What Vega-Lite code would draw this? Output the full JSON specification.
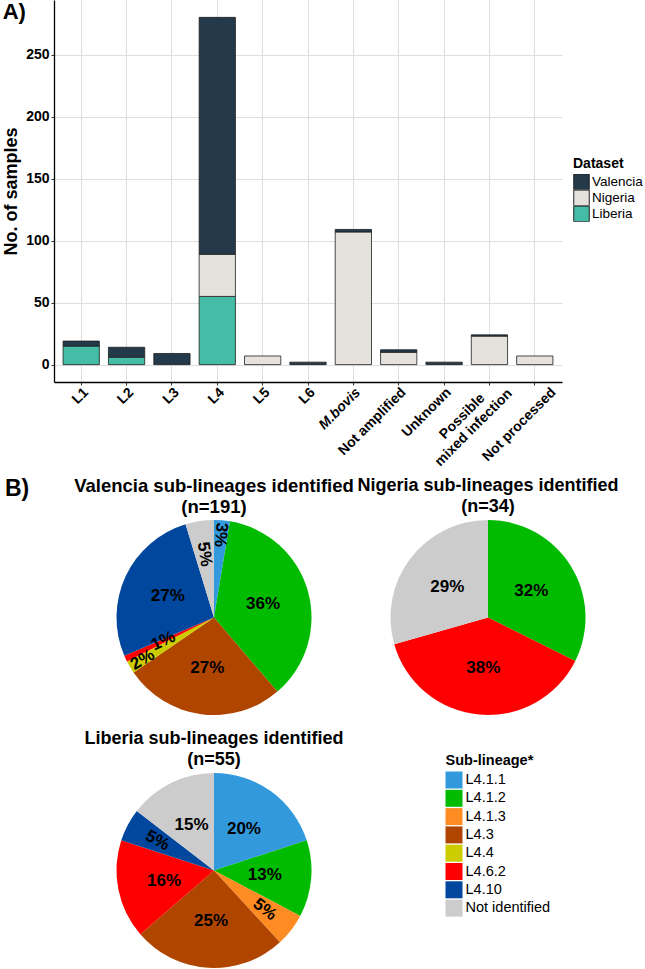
{
  "$schema": "https://vega.github.io/schema/vega-lite/v6.json",
  "padding": {"left": 2, "top": 0, "right": 0, "bottom": 0},
  "background": "white",
  "config": {"font": "Liberation Sans", "view": {"stroke": null}},
  "datasets": {
    "bars": [
      {"lineage": "L1", "dataset": "Liberia", "n": 15},
      {"lineage": "L1", "dataset": "Valencia", "n": 4},
      {"lineage": "L2", "dataset": "Liberia", "n": 6},
      {"lineage": "L2", "dataset": "Valencia", "n": 8},
      {"lineage": "L3", "dataset": "Valencia", "n": 9},
      {"lineage": "L4", "dataset": "Liberia", "n": 55},
      {"lineage": "L4", "dataset": "Nigeria", "n": 34},
      {"lineage": "L4", "dataset": "Valencia", "n": 191},
      {"lineage": "L5", "dataset": "Nigeria", "n": 7},
      {"lineage": "L6", "dataset": "Valencia", "n": 2},
      {"lineage": "M.bovis", "dataset": "Nigeria", "n": 107},
      {"lineage": "M.bovis", "dataset": "Valencia", "n": 2},
      {"lineage": "Not amplified", "dataset": "Nigeria", "n": 10},
      {"lineage": "Not amplified", "dataset": "Valencia", "n": 2},
      {"lineage": "Unknown", "dataset": "Valencia", "n": 2},
      {"lineage": "Possible mixed infection", "dataset": "Nigeria", "n": 23},
      {"lineage": "Possible mixed infection", "dataset": "Valencia", "n": 1},
      {"lineage": "Not processed", "dataset": "Nigeria", "n": 7}
    ],
    "pies": [
      {"dataset": "Valencia", "sub": "L4.1.1", "n": 5},
      {"dataset": "Valencia", "sub": "L4.1.2", "n": 69},
      {"dataset": "Valencia", "sub": "L4.3", "n": 51},
      {"dataset": "Valencia", "sub": "L4.4", "n": 4},
      {"dataset": "Valencia", "sub": "L4.6.2", "n": 2},
      {"dataset": "Valencia", "sub": "L4.10", "n": 51},
      {"dataset": "Valencia", "sub": "Not identified", "n": 9},
      {"dataset": "Nigeria", "sub": "L4.1.2", "n": 11},
      {"dataset": "Nigeria", "sub": "L4.6.2", "n": 13},
      {"dataset": "Nigeria", "sub": "Not identified", "n": 10},
      {"dataset": "Liberia", "sub": "L4.1.1", "n": 11},
      {"dataset": "Liberia", "sub": "L4.1.2", "n": 7},
      {"dataset": "Liberia", "sub": "L4.1.3", "n": 3},
      {"dataset": "Liberia", "sub": "L4.3", "n": 14},
      {"dataset": "Liberia", "sub": "L4.6.2", "n": 9},
      {"dataset": "Liberia", "sub": "L4.10", "n": 3},
      {"dataset": "Liberia", "sub": "Not identified", "n": 8}
    ]
  },
  "spacing": 7,
  "resolve": {"scale": {"color": "independent"}, "legend": {"color": "independent"}},
  "vconcat": [
    {
      "width": 508,
      "height": 382,
      "title": {"text": "A)", "anchor": "start", "frame": "bounds", "fontSize": 22, "fontWeight": "bold", "color": "black", "offset": -24},
      "data": {"name": "bars"},
      "transform": [{"calculate": "indexof(['Liberia','Nigeria','Valencia'], datum.dataset)", "as": "stackIdx"}],
      "mark": {"type": "bar", "stroke": "#1e1e1e", "strokeWidth": 0.8},
      "encoding": {
        "x": {
          "field": "lineage", "type": "nominal",
          "sort": ["L1", "L2", "L3", "L4", "L5", "L6", "M.bovis", "Not amplified", "Unknown", "Possible mixed infection", "Not processed"],
          "scale": {"paddingInner": 0.2, "paddingOuter": 0.2},
          "axis": {
            "title": null, "labelAngle": -45, "labelBaseline": "top",
            "labelAlign": {"condition": {"test": "datum.value == 'Possible mixed infection'", "value": "center"}, "value": "right"},
            "labelOffset": {"condition": [{"test": "datum.value == 'Possible mixed infection'", "value": -32}, {"test": "datum.value == 'Not processed'", "value": 14}], "value": 0},
            "labelPadding": {"condition": {"test": "datum.value == 'Possible mixed infection'", "value": 26}, "value": 0},
            "labelFontSize": 14, "labelFontWeight": "bold", "labelColor": "black",
            "labelFontStyle": {"condition": {"test": "datum.value === 'M.bovis'", "value": "italic"}, "value": "normal"},
            "labelExpr": "datum.value == 'Possible mixed infection' ? ['Possible', 'mixed infection'] : datum.value",
            "labelLineHeight": 16, "labelOverlap": false, "labelLimit": 0, "labelBound": false,
            "grid": true, "gridColor": "#dedede", "bandPosition": 0.5,
            "domainColor": "black", "domainWidth": 1.3, "tickColor": "#333333", "tickSize": 3
          }
        },
        "y": {
          "field": "n", "type": "quantitative", "stack": "zero",
          "scale": {"domain": [-14, 294], "nice": false, "zero": false},
          "axis": {
            "title": "No. of samples", "titleFontSize": 18, "titleFontWeight": "bold", "titleColor": "black", "titlePadding": 5,
            "values": [0, 50, 100, 150, 200, 250],
            "labelFontSize": 14, "labelFontWeight": "bold", "labelColor": "black", "labelPadding": 2,
            "tickSize": 3, "tickColor": "#333333", "gridColor": "#dedede",
            "domainColor": "black", "domainWidth": 1.3
          }
        },
        "color": {
          "field": "dataset", "type": "nominal",
          "scale": {"domain": ["Valencia", "Nigeria", "Liberia"], "range": ["#243a4a", "#e5e2dd", "#45bca6"]},
          "legend": {
            "title": "Dataset", "orient": "none", "legendX": 519, "legendY": 157,
            "titleFontSize": 14, "titleFontWeight": "bold", "titleColor": "black", "titlePadding": 3,
            "labelFontSize": 13.5, "labelColor": "black", "labelOffset": 2,
            "symbolType": "square", "symbolSize": 240, "symbolStrokeColor": "#222222", "symbolStrokeWidth": 1,
            "clipHeight": 15.7, "rowPadding": 0
          }
        },
        "order": {"field": "stackIdx", "type": "quantitative", "sort": "ascending"}
      }
    },
    {
      "title": {"text": "B)", "anchor": "start", "frame": "group", "fontSize": 23, "fontWeight": "bold", "color": "black", "offset": -24, "dx": -49},
      "spacing": -17.5,
      "resolve": {"scale": {"color": "independent"}, "legend": {"color": "independent"}},
      "hconcat": [
        {
          "spacing": 15,
          "resolve": {"scale": {"color": "independent"}, "legend": {"color": "independent"}},
          "vconcat": [
            {
              "width": 320, "height": 195,
              "title": {"text": ["Valencia sub-lineages identified", "(n=191)"], "fontSize": 18.5, "fontWeight": "bold", "color": "black", "lineHeight": 21, "offset": 4, "anchor": "middle"},
              "data": {"name": "pies"},
              "transform": [
                {"filter": "datum.dataset == 'Valencia'"},
                {"calculate": "indexof(['L4.1.1','L4.1.2','L4.1.3','L4.3','L4.4','L4.6.2','L4.10','Not identified'], datum.sub)", "as": "idx"},
                {"window": [{"op": "sum", "field": "n", "as": "cum"}], "sort": [{"field": "idx", "order": "ascending"}]},
                {"joinaggregate": [{"op": "sum", "field": "n", "as": "total"}]},
                {"calculate": "(datum.cum - datum.n) / datum.total", "as": "start"},
                {"calculate": "datum.cum / datum.total", "as": "end"},
                {"calculate": "(datum.start + datum.end) / 2", "as": "mid"},
                {"calculate": "datum.n / datum.total", "as": "frac"},
                {"calculate": "round(datum.frac * 100) + '%'", "as": "label"},
                {"calculate": "datum.frac < 0.015 ? 56 : datum.frac < 0.035 ? 83 : datum.frac < 0.07 ? 64 : 51", "as": "r"},
                {"calculate": "datum.frac < 0.07 ? (((datum.mid * 360 + 270) % 360) - 180) : 0", "as": "a0"},
                {"calculate": "datum.a0 > 100 ? datum.a0 - 180 : (datum.a0 < -100 ? datum.a0 + 180 : datum.a0)", "as": "ang"}
              ],
              "layer": [
                {
                  "mark": {"type": "arc"},
                  "encoding": {
                    "theta": {"field": "start", "type": "quantitative", "scale": {"domain": [0, 1]}, "stack": null},
                    "theta2": {"field": "end"},
                    "color": {"field": "sub", "type": "nominal", "legend": null,
                      "scale": {"domain": ["L4.1.1", "L4.1.2", "L4.1.3", "L4.3", "L4.4", "L4.6.2", "L4.10", "Not identified"],
                                "range": ["#3399dd", "#00bb00", "#ff8c22", "#b04500", "#cccc00", "#ff0000", "#00479d", "#cccccc"]}}
                  }
                },
                {
                  "mark": {"type": "text", "fontSize": 17, "fontWeight": "bold", "color": "black", "align": "center", "baseline": "middle"},
                  "encoding": {
                    "theta": {"field": "mid", "type": "quantitative", "scale": {"domain": [0, 1]}, "stack": null},
                    "radius": {"field": "r", "type": "quantitative", "scale": null},
                    "angle": {"field": "ang", "type": "quantitative", "scale": null},
                    "text": {"field": "label"}
                  }
                }
              ]
            },
            {
              "width": 320, "height": 195,
              "title": {"text": ["Liberia sub-lineages identified", "(n=55)"], "fontSize": 18, "fontWeight": "bold", "color": "black", "lineHeight": 21, "offset": 4, "anchor": "middle"},
              "data": {"name": "pies"},
              "transform": [
                {"filter": "datum.dataset == 'Liberia'"},
                {"calculate": "indexof(['L4.1.1','L4.1.2','L4.1.3','L4.3','L4.4','L4.6.2','L4.10','Not identified'], datum.sub)", "as": "idx"},
                {"window": [{"op": "sum", "field": "n", "as": "cum"}], "sort": [{"field": "idx", "order": "ascending"}]},
                {"joinaggregate": [{"op": "sum", "field": "n", "as": "total"}]},
                {"calculate": "(datum.cum - datum.n) / datum.total", "as": "start"},
                {"calculate": "datum.cum / datum.total", "as": "end"},
                {"calculate": "(datum.start + datum.end) / 2", "as": "mid"},
                {"calculate": "datum.n / datum.total", "as": "frac"},
                {"calculate": "round(datum.frac * 100) + '%'", "as": "label"},
                {"calculate": "datum.frac < 0.015 ? 56 : datum.frac < 0.035 ? 83 : datum.frac < 0.07 ? 64 : 51", "as": "r"},
                {"calculate": "datum.frac < 0.07 ? (((datum.mid * 360 + 270) % 360) - 180) : 0", "as": "a0"},
                {"calculate": "datum.a0 > 100 ? datum.a0 - 180 : (datum.a0 < -100 ? datum.a0 + 180 : datum.a0)", "as": "ang"}
              ],
              "layer": [
                {
                  "mark": {"type": "arc"},
                  "encoding": {
                    "theta": {"field": "start", "type": "quantitative", "scale": {"domain": [0, 1]}, "stack": null},
                    "theta2": {"field": "end"},
                    "color": {"field": "sub", "type": "nominal", "legend": null,
                      "scale": {"domain": ["L4.1.1", "L4.1.2", "L4.1.3", "L4.3", "L4.4", "L4.6.2", "L4.10", "Not identified"],
                                "range": ["#3399dd", "#00bb00", "#ff8c22", "#b04500", "#cccc00", "#ff0000", "#00479d", "#cccccc"]}}
                  }
                },
                {
                  "mark": {"type": "text", "fontSize": 17, "fontWeight": "bold", "color": "black", "align": "center", "baseline": "middle"},
                  "encoding": {
                    "theta": {"field": "mid", "type": "quantitative", "scale": {"domain": [0, 1]}, "stack": null},
                    "radius": {"field": "r", "type": "quantitative", "scale": null},
                    "angle": {"field": "ang", "type": "quantitative", "scale": null},
                    "text": {"field": "label"}
                  }
                }
              ]
            }
          ]
        },
        {
          "width": 227, "height": 195,
          "title": {"text": ["Nigeria sub-lineages identified", "(n=34)"], "fontSize": 18, "fontWeight": "bold", "color": "black", "lineHeight": 21, "offset": 4, "anchor": "middle"},
          "data": {"name": "pies"},
          "transform": [
            {"filter": "datum.dataset == 'Nigeria'"},
            {"calculate": "indexof(['L4.1.1','L4.1.2','L4.1.3','L4.3','L4.4','L4.6.2','L4.10','Not identified'], datum.sub)", "as": "idx"},
            {"window": [{"op": "sum", "field": "n", "as": "cum"}], "sort": [{"field": "idx", "order": "ascending"}]},
            {"joinaggregate": [{"op": "sum", "field": "n", "as": "total"}]},
            {"calculate": "(datum.cum - datum.n) / datum.total", "as": "start"},
            {"calculate": "datum.cum / datum.total", "as": "end"},
            {"calculate": "(datum.start + datum.end) / 2", "as": "mid"},
            {"calculate": "datum.n / datum.total", "as": "frac"},
            {"calculate": "round(datum.frac * 100) + '%'", "as": "label"},
            {"calculate": "datum.frac < 0.015 ? 56 : datum.frac < 0.035 ? 83 : datum.frac < 0.07 ? 64 : 51", "as": "r"},
            {"calculate": "datum.frac < 0.07 ? (((datum.mid * 360 + 270) % 360) - 180) : 0", "as": "a0"},
            {"calculate": "datum.a0 > 100 ? datum.a0 - 180 : (datum.a0 < -100 ? datum.a0 + 180 : datum.a0)", "as": "ang"}
          ],
          "layer": [
            {
              "mark": {"type": "arc"},
              "encoding": {
                "theta": {"field": "start", "type": "quantitative", "scale": {"domain": [0, 1]}, "stack": null},
                "theta2": {"field": "end"},
                "color": {"field": "sub", "type": "nominal",
                  "scale": {"domain": ["L4.1.1", "L4.1.2", "L4.1.3", "L4.3", "L4.4", "L4.6.2", "L4.10", "Not identified"],
                            "range": ["#3399dd", "#00bb00", "#ff8c22", "#b04500", "#cccc00", "#ff0000", "#00479d", "#cccccc"]},
                  "legend": {
                    "title": "Sub-lineage*", "orient": "none", "legendX": 71, "legendY": 234,
                    "titleFontSize": 14.5, "titleFontWeight": "bold", "titleColor": "black", "titlePadding": 3,
                    "labelFontSize": 14.5, "labelColor": "black", "labelOffset": 3,
                    "symbolType": "square", "symbolSize": 289, "symbolStrokeWidth": 0, "rowPadding": 1.3
                  }}
              }
            },
            {
              "mark": {"type": "text", "fontSize": 17, "fontWeight": "bold", "color": "black", "align": "center", "baseline": "middle"},
              "encoding": {
                "theta": {"field": "mid", "type": "quantitative", "scale": {"domain": [0, 1]}, "stack": null},
                "radius": {"field": "r", "type": "quantitative", "scale": null},
                "angle": {"field": "ang", "type": "quantitative", "scale": null},
                "text": {"field": "label"}
              }
            }
          ]
        }
      ]
    }
  ]
}
